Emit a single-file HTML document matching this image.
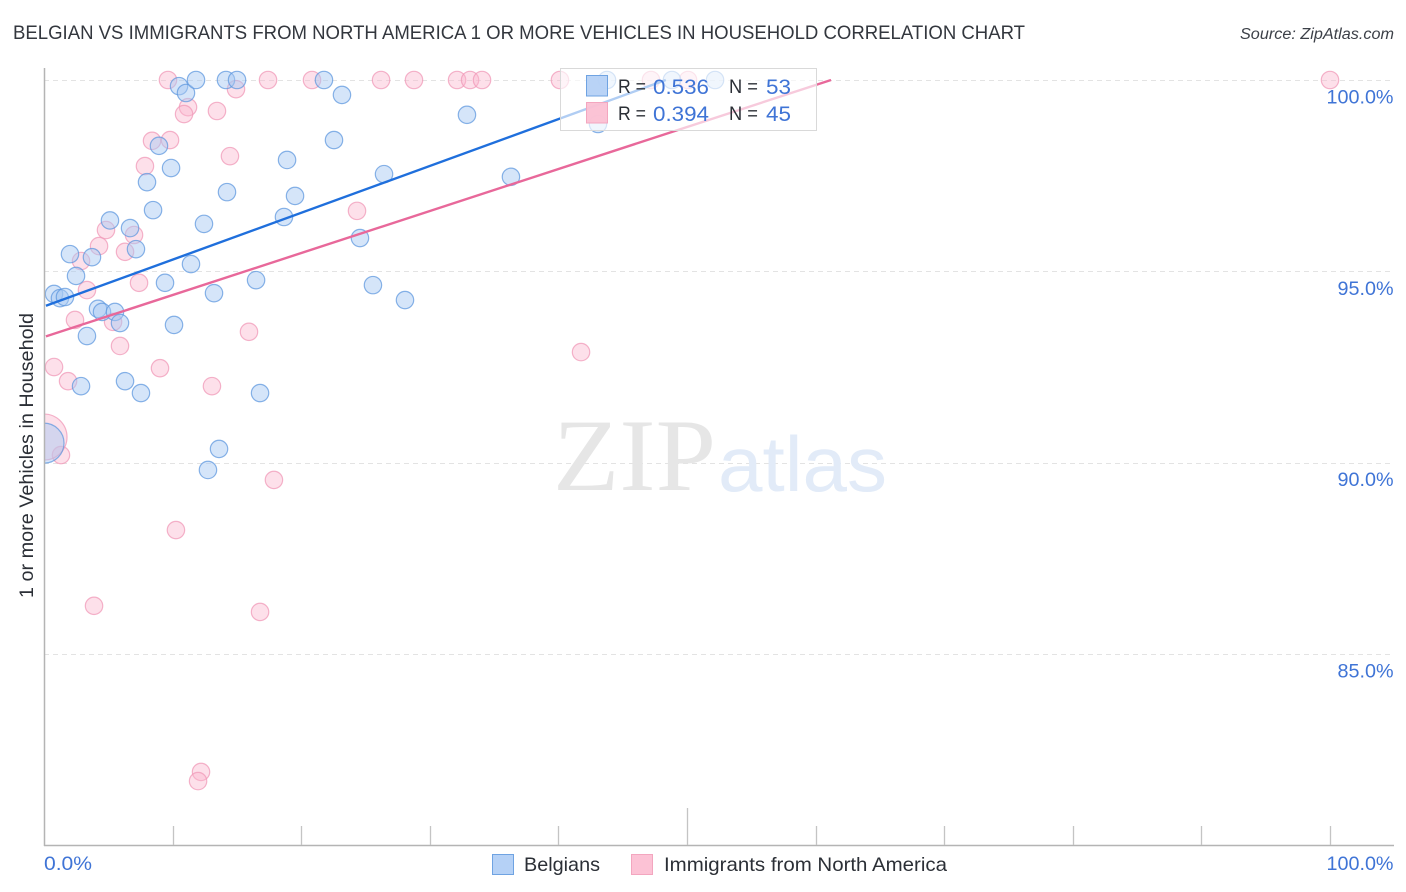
<!DOCTYPE html>
<html lang="en">
<head>
<meta charset="utf-8">
<title>Belgian vs Immigrants from North America chart</title>
<style>
html,body{margin:0;padding:0;background:#fff;width:1406px;height:892px;overflow:hidden}
svg{display:block;font-family:"Liberation Sans",sans-serif}
</style>
</head>
<body>
<svg id="chart" xmlns="http://www.w3.org/2000/svg" width="1406" height="892" viewBox="0 0 1406 892">
  <rect width="1406" height="892" fill="#fff"></rect>
  <text x="13" y="39" font-size="19.5" fill="#33373e" textLength="1012" lengthAdjust="spacingAndGlyphs">BELGIAN VS IMMIGRANTS FROM NORTH AMERICA 1 OR MORE VEHICLES IN HOUSEHOLD CORRELATION CHART</text>
  <text x="1394" y="39" font-size="15.5" font-style="italic" fill="#3c4048" text-anchor="end" textLength="154" lengthAdjust="spacingAndGlyphs">Source: ZipAtlas.com</text>

  <g id="grid"></g>

  <g>
    <text x="553" y="490" font-family="'Liberation Serif',serif" font-size="103" fill="#e6e6e6" textLength="163" lengthAdjust="spacingAndGlyphs">ZIP</text>
    <text x="718" y="491" font-size="78" fill="#e2ebf8" textLength="169" lengthAdjust="spacingAndGlyphs">atlas</text>
  </g>

  <g id="pink-dots"></g>
  <g id="blue-dots"></g>
  <rect x="0" y="60" width="44.5" height="790" fill="#fff"></rect>
  <text transform="translate(33,598) rotate(-90)" font-size="19" fill="#2b2f36" textLength="285" lengthAdjust="spacingAndGlyphs">1 or more Vehicles in Household</text>
  <g id="trend-lines"></g>

  <g id="axes">
    <line x1="44.5" y1="68" x2="44.5" y2="846" stroke="#b4b4b4" stroke-width="1.5"></line>
    <line x1="44" y1="845.5" x2="1394" y2="845.5" stroke="#b4b4b4" stroke-width="1.5"></line>
  </g>
  <g id="y-labels"></g>
  <g id="x-labels"></g>

  <g>
    <rect x="560.5" y="68.5" width="256" height="62" fill="#fff" fill-opacity="0.65" stroke="#d9d9d9" stroke-width="1"></rect>
    <rect x="586.5" y="75.5" width="21" height="20.5" fill="#b5d1f6" fill-opacity="0.95" stroke="#6fa3e2" stroke-width="1"></rect>
    <rect x="586.5" y="102.5" width="21" height="20.5" fill="#fbc0d3" fill-opacity="0.95" stroke="#f3a6bf" stroke-width="1"></rect>
    <text x="618" y="93" font-size="19.5" fill="#2b2f36" textLength="28" lengthAdjust="spacingAndGlyphs">R =</text>
    <text x="653" y="94" font-size="21" fill="#3f74d6" textLength="56" lengthAdjust="spacingAndGlyphs">0.536</text>
    <text x="729" y="93" font-size="19.5" fill="#2b2f36" textLength="29" lengthAdjust="spacingAndGlyphs">N =</text>
    <text x="766" y="94" font-size="21" fill="#3f74d6" textLength="25" lengthAdjust="spacingAndGlyphs">53</text>
    <text x="618" y="120" font-size="19.5" fill="#2b2f36" textLength="28" lengthAdjust="spacingAndGlyphs">R =</text>
    <text x="653" y="121" font-size="21" fill="#3f74d6" textLength="56" lengthAdjust="spacingAndGlyphs">0.394</text>
    <text x="729" y="120" font-size="19.5" fill="#2b2f36" textLength="29" lengthAdjust="spacingAndGlyphs">N =</text>
    <text x="766" y="121" font-size="21" fill="#3f74d6" textLength="25" lengthAdjust="spacingAndGlyphs">45</text>
  </g>

  <g>
    <rect x="492.5" y="854.5" width="21" height="20" fill="#b5d1f6" stroke="#6fa3e2" stroke-width="1"></rect>
    <text x="524" y="871" font-size="19.5" fill="#2b2f36" textLength="76" lengthAdjust="spacingAndGlyphs">Belgians</text>
    <rect x="631.5" y="854.5" width="21" height="20" fill="#fcc2d5" stroke="#f3a6bf" stroke-width="1"></rect>
    <text x="664" y="871" font-size="19.5" fill="#2b2f36" textLength="283" lengthAdjust="spacingAndGlyphs">Immigrants from North America</text>
  </g>
</svg>

<script>
// Chart data (percent units)
const yTicks = [100, 95, 90, 85];
const yTickLabels = ["100.0%", "95.0%", "90.0%", "85.0%"];
const xTicks = [0, 10, 20, 30, 40, 50, 60, 70, 80, 90, 100];
const xMajorTick = 50;
const xEndLabels = ["0.0%", "100.0%"];

const belgianX = [0.78,1.24,1.63,2.02,2.49,3.73,5.13,6.69,7.15,3.34,4.20,4.51,5.52,5.91,2.88,6.30,7.54,8.48,8.01,8.94,9.88,9.41,10.11,11.43,12.44,13.22,14.23,16.49,18.66,19.52,18.90,22.55,23.17,26.44,24.57,25.58,28.07,32.89,36.31,10.50,11.04,11.82,14.15,15.01,21.77,16.80,13.61,12.75,0,43.78,48.83,52.18,43.08];
const belgianY = [94.41,94.30,94.33,95.45,94.88,95.37,96.33,96.13,95.58,93.31,94.02,93.94,93.94,93.65,92.00,92.13,91.82,96.60,97.33,98.28,97.70,94.70,93.60,95.19,96.24,94.43,97.07,94.77,96.42,96.97,97.91,98.43,99.61,97.54,95.87,94.64,94.25,99.09,97.47,99.84,99.66,100,100,100,100,91.82,90.36,89.81,90.51,100,100,100,98.85];
const belgianLargeIndex = 48;
const belgianLargeWeight = 5.3;

const immigrantX = [9.64,17.42,20.84,14.93,11.20,10.89,13.45,8.40,9.80,7.85,14.46,4.82,4.28,7.00,6.30,2.88,7.39,3.34,2.41,5.37,5.91,0.78,1.87,9.02,13.06,15.94,1.32,0,17.88,10.26,3.89,16.80,12.21,11.98,24.34,41.76,100,26.21,28.77,32.12,33.13,34.06,40.12,47.20,50.08];
const immigrantY = [100,100,100,99.76,99.29,99.11,99.19,98.41,98.43,97.75,98.01,96.08,95.66,95.95,95.51,95.27,94.70,94.51,93.73,93.68,93.05,92.50,92.13,92.47,92.00,93.42,90.20,90.67,89.55,88.24,86.26,86.10,81.92,81.68,96.58,92.89,100,100,100,100,100,100,100,100,100];
const immigrantLargeIndex = 27;
const immigrantLargeWeight = 7;

const belgianTrendX = [0.15, 48.35];
const belgianTrendY = [94.1, 100];
const immigrantTrendX = [0.15, 61.2];
const immigrantTrendY = [93.3, 100];

// Axis functions
const SVG_NS = "http://www.w3.org/2000/svg";
function xScale(v) { return 44 + v * 12.86; }
function yScale(v) { return 80 + (100 - v) * 38.27; }
function radius(weight) { return 8.7 * Math.sqrt(weight); }
function make(tag, attrs, parent) {
  const el = document.createElementNS(SVG_NS, tag);
  for (const k in attrs) el.setAttribute(k, attrs[k]);
  parent.appendChild(el);
  return el;
}

// Gridlines and y labels
const grid = document.getElementById("grid");
const yLabels = document.getElementById("y-labels");
yTicks.forEach(function (t, i) {
  const y = Math.round(yScale(t)) + 0.5;
  const g = make("line", {x1: 44, x2: 1394, y1: y, y2: y, stroke: "#e3e3e3", "stroke-width": 1, "stroke-dasharray": "5 4"}, grid);
  
  
  const label = make("text", {x: 1393.5, y: yScale(t) + 23.5, "font-size": 19, fill: "#3f74d6", "text-anchor": "end", textLength: i === 0 ? 67 : 56, lengthAdjust: "spacingAndGlyphs"}, yLabels);
  
  
  label.textContent = yTickLabels[i];
});

// X ticks and labels
const axes = document.getElementById("axes");
xTicks.forEach(function (t) {
  if (t === 0) return;
  const x = Math.round(xScale(t)) + 0.5;
  const tick = make("line", {x1: x, x2: x, y1: t === xMajorTick ? 808 : 826, y2: 845, stroke: "#c4c4c4", "stroke-width": 1.3}, axes);
  
  
});
const xLabels = document.getElementById("x-labels");
const x0 = make("text", {x: xScale(xTicks[0]), y: 870, "font-size": 19, fill: "#3f74d6", textLength: 48, lengthAdjust: "spacingAndGlyphs"}, xLabels);


x0.textContent = xEndLabels[0];
const x1 = make("text", {x: 1393.5, y: 870, "font-size": 19, fill: "#3f74d6", "text-anchor": "end", textLength: 67, lengthAdjust: "spacingAndGlyphs"}, xLabels);


x1.textContent = xEndLabels[1];

// Points
const pinkGroup = document.getElementById("pink-dots");
immigrantX.forEach(function (v, i) {
  const w = i === immigrantLargeIndex ? immigrantLargeWeight : 1;
  const c = make("circle", {cx: xScale(v), cy: yScale(immigrantY[i]), r: radius(w), fill: "#fbb6cd", "fill-opacity": 0.42, stroke: "#f09ab8", "stroke-opacity": 0.75, "stroke-width": 1.2}, pinkGroup);
  
  
});
const blueGroup = document.getElementById("blue-dots");
belgianX.forEach(function (v, i) {
  const w = i === belgianLargeIndex ? belgianLargeWeight : 1;
  const c = make("circle", {cx: xScale(v), cy: yScale(belgianY[i]), r: radius(w), fill: "#a8c8f3", "fill-opacity": 0.48, stroke: "#5b96de", "stroke-opacity": 0.72, "stroke-width": 1.2}, blueGroup);
  
  
});

// Trend lines
const trends = document.getElementById("trend-lines");
const tl1 = make("line", {x1: xScale(immigrantTrendX[0]), y1: yScale(immigrantTrendY[0]), x2: xScale(immigrantTrendX[1]), y2: yScale(immigrantTrendY[1]), stroke: "#e8689a", "stroke-width": 2.4}, trends);


const tl2 = make("line", {x1: xScale(belgianTrendX[0]), y1: yScale(belgianTrendY[0]), x2: xScale(belgianTrendX[1]), y2: yScale(belgianTrendY[1]), stroke: "#1f6fdc", "stroke-width": 2.4}, trends);


</script>
</body>
</html>
